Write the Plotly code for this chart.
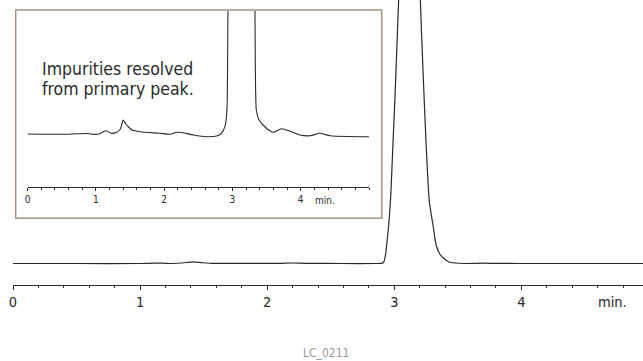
import plotly.graph_objects as go

# ---------------- data ----------------
main_time = [0, 0.5, 1.0, 1.12, 1.18, 1.25, 1.33, 1.41, 1.49, 1.56, 1.8, 2.1, 2.2, 2.3,
             2.6, 2.85, 2.90, 2.915, 2.93, 2.943, 2.957, 2.973, 3.034, 3.12, 3.205,
             3.275, 3.305, 3.33, 3.36, 3.39, 3.43, 3.48, 3.55, 3.7, 3.8, 4.0, 4.5, 4.96]
main_signal = [0, 0, 0, 0.3, 0.3, 0, 0.5, 1.7, 0.8, 0.2, 0.2, 0.2, 0.5, 0.2,
               0, 0, 0.2, 1, 8, 22, 40, 70, 263, 700, 263,
               63, 38, 18, 9, 5, 1.5, 0.5, 0, 0.3, 0.1, 0, 0, 0]

inset_time = [0, 0.5, 0.89, 0.95, 1.05, 1.14, 1.23, 1.30, 1.36, 1.40, 1.44, 1.48, 1.53,
              1.65, 1.94, 2.09, 2.18, 2.26, 2.43, 2.62, 2.77, 2.84, 2.89, 2.92, 2.935,
              3.14, 3.33, 3.35, 3.39, 3.45, 3.53, 3.60, 3.72, 3.84, 3.99, 4.14, 4.28,
              4.43, 4.7, 5.0]
inset_signal = [0, -0.3, 0.5, -0.3, 0, 3.3, 0.7, 1.5, 5, 14, 10, 7, 4,
                2.3, 0.7, -0.3, 1.7, 1.5, -1, -2.7, -2, 0.7, 7.3, 24, 124,
                1500, 124, 24, 14, 9, 4, 1.7, 5.3, 3, -1, -1.7, 0.7,
                -1.7, -2.5, -2.7]

tick_vals = [0, 1, 2, 3, 4]
tick_text = ["0", "1", "2", "3", "4"]
unit_label = "min."
note_lines = ["Impurities resolved", "from primary peak."]
figure_code = "LC_0211"

FONT = "DejaVu Sans Condensed, Liberation Sans, Arial, sans-serif"
INK = "#2a2a2a"

fig = go.Figure()
fig.add_trace(go.Scatter(x=main_time, y=main_signal, mode="lines",
                         line=dict(color=INK, width=1.2, shape="spline", smoothing=0.6),
                         xaxis="x", yaxis="y", hoverinfo="skip"))
fig.add_trace(go.Scatter(x=inset_time, y=inset_signal, mode="lines",
                         line=dict(color=INK, width=1.1, shape="spline", smoothing=0.5),
                         xaxis="x2", yaxis="y2", hoverinfo="skip"))

W, H = 643, 361
ML, MB = 13, 76
PW, PH = W - ML, H - MB


def px(xp):
    return (xp - ML) / PW


def py(yp):
    return (PH - yp) / PH


fig.update_layout(
    width=W, height=H,
    margin=dict(l=ML, r=0, t=0, b=MB, pad=0),
    paper_bgcolor="white", plot_bgcolor="white",
    showlegend=False,
    font=dict(family=FONT, color=INK),
    xaxis=dict(domain=[0, 1], range=[0, PW / 127.1], anchor="y",
               showline=True, linecolor=INK, linewidth=1,
               ticks="outside", ticklen=4, tickcolor=INK, tickwidth=1,
               tickvals=tick_vals, ticktext=tick_text,
               tickfont=dict(size=14.5, color=INK, family=FONT),
               minor=dict(dtick=0.2, tick0=0, ticks="outside", ticklen=2, tickcolor=INK),
               showgrid=False, zeroline=False),
    yaxis=dict(domain=[0, 1], range=[-21.5, 263.5], visible=False, fixedrange=True),
    xaxis2=dict(domain=[px(27.5), px(369)], range=[0, 5.0], anchor="y2",
                showline=True, linecolor=INK, linewidth=1,
                ticks="outside", ticklen=3, tickcolor=INK, tickwidth=1,
                tickvals=tick_vals, ticktext=tick_text,
                tickfont=dict(size=10, color=INK, family=FONT),
                minor=dict(dtick=0.2, tick0=0, ticks="outside", ticklen=2, tickcolor=INK),
                showgrid=False, zeroline=False),
    yaxis2=dict(domain=[py(187.3), py(11)], range=[-53.3, 123], visible=False, anchor="x2"),
)

# inset frame
fig.add_shape(type="rect", xref="paper", yref="paper",
              x0=px(15.7), x1=px(381.7), y0=py(218.3), y1=py(10),
              line=dict(color="#a29480", width=1.5), layer="below")

# annotations
fig.add_annotation(text=note_lines[0], xref="paper", yref="paper", x=px(40), y=py(69),
                   xanchor="left", yanchor="middle", showarrow=False,
                   font=dict(size=17.5, color=INK, family=FONT))
fig.add_annotation(text=note_lines[1], xref="paper", yref="paper", x=px(40), y=py(89),
                   xanchor="left", yanchor="middle", showarrow=False,
                   font=dict(size=17.5, color=INK, family=FONT))
fig.add_annotation(text=unit_label, xref="paper", yref="paper", x=px(612), y=py(302),
                   xanchor="center", yanchor="middle", showarrow=False,
                   font=dict(size=14.5, color=INK, family=FONT))
fig.add_annotation(text=unit_label, xref="paper", yref="paper", x=px(325), y=py(200.5),
                   xanchor="center", yanchor="middle", showarrow=False,
                   font=dict(size=10, color=INK, family=FONT))
fig.add_annotation(text=figure_code, xref="paper", yref="paper", x=px(326), y=py(353),
                   xanchor="center", yanchor="middle", showarrow=False,
                   font=dict(size=12, color="#9a9a9a", family=FONT))

fig.write_html("out.html",
               config={"displayModeBar": False, "staticPlot": True},
               post_script="document.body.style.margin='0';document.body.style.padding='0';")
